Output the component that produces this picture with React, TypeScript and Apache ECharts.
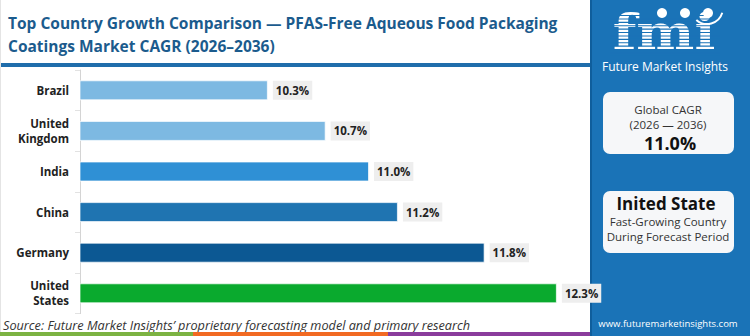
import React, { useEffect, useRef } from "react";
import * as echarts from "echarts";

const categories = ["Brazil", "United\nKingdom", "India", "China", "Germany", "United\nStates"];
const cagrValues = [10.3, 10.7, 11.0, 11.2, 11.8, 12.3];
const barColors = ["#7db9e2", "#7db9e2", "#2f90d5", "#1f74b1", "#0c5893", "#0aaa2e"];
const titleLines = [
  "Top Country Growth Comparison — PFAS-Free Aqueous Food Packaging",
  "Coatings Market CAGR (2026–2036)",
];
const globalCagr = "11.0%";
const sourceText = "Source: Future Market Insights’ proprietary forecasting model and primary research";

const FONT = "'Open Sans', 'Noto Sans', sans-serif";
const PANEL = "#1a73b7";

export default function App() {
  const ref = useRef<HTMLDivElement>(null);
  useEffect(() => {
    if (!ref.current) return;
    const chart = echarts.init(ref.current, null, { renderer: "svg" });
    const stripes: any[] = [];
    for (let y = 15; y < 57; y += 3.4) {
      stripes.push({
        type: "rect",
        shape: { x: 610, y, width: 110, height: 1.1 },
        style: { fill: PANEL },
        z: 20,
      });
    }
    chart.setOption({
      animation: false,
      backgroundColor: "#ffffff",
      grid: { left: 80, top: 70, width: 500, height: 243.6 },
      xAxis: { type: "value", min: 9, max: 12.46, show: false, splitLine: { show: false } },
      yAxis: {
        type: "category",
        inverse: true,
        data: categories,
        axisLine: { show: true, lineStyle: { color: "#d4d4d4", width: 1 } },
        axisTick: { show: true, length: 5, lineStyle: { color: "#e2e2e2" } },
        axisLabel: {
          fontFamily: FONT,
          fontWeight: "bold",
          fontSize: 11.5,
          color: "#222",
          margin: 11,
          lineHeight: 15,
          align: "right",
        },
      },
      series: [
        {
          type: "bar",
          barWidth: 20,
          data: cagrValues.map((v, i) => ({
            value: v,
            itemStyle: { color: barColors[i], borderColor: "rgba(255,255,255,0.7)", borderWidth: 1 },
          })),
          label: {
            show: true,
            position: "right",
            distance: 5,
            formatter: (p: any) => Number(p.value).toFixed(1) + "%",
            fontFamily: FONT,
            fontWeight: "bold",
            fontSize: 11.5,
            color: "#222",
            backgroundColor: "#eeeeee",
            padding: [4, 3, 3, 3],
          },
        },
      ],
      graphic: [
        {
          type: "text",
          left: 8,
          top: 11,
          style: {
            text: titleLines.join("\n"),
            font: `bold 15.5px ${FONT}`,
            lineHeight: 23,
            fill: "#1b5b8d",
          },
        },
        { type: "rect", shape: { x: 0, y: 63, width: 590, height: 4 }, style: { fill: "#1f6dab" } },
        { type: "rect", shape: { x: 0, y: 0, width: 1, height: 332 }, style: { fill: "#e4e4e4" } },
        { type: "rect", shape: { x: 590, y: 0, width: 160, height: 336 }, style: { fill: PANEL } },
        { type: "rect", shape: { x: 590, y: 0, width: 2, height: 336 }, style: { fill: "#0f5e9c" } },
        // logo
        {
          type: "text",
          x: 664,
          y: 32,
          scaleX: 1.12,
          style: {
            text: "fmi",
            font: "bold 49px 'DejaVu Serif', serif",
            fill: "#ffffff",
            textAlign: "center",
            textVerticalAlign: "middle",
            lineHeight: 40,
          },
          z: 10,
        },
        ...stripes,
        { type: "circle", shape: { cx: 662, cy: 13, r: 5 }, style: { fill: "#ffffff" }, z: 21 },
        { type: "circle", shape: { cx: 685, cy: 13, r: 5 }, style: { fill: "#ffffff" }, z: 21 },
        { type: "circle", shape: { cx: 708, cy: 13, r: 5 }, style: { fill: "#ffffff" }, z: 21 },
        {
          type: "arc",
          shape: { cx: 707, cy: 8, r: 16, startAngle: 0.3, endAngle: 2.3 },
          style: { stroke: "#ffffff", lineWidth: 2, fill: "none" },
          z: 21,
        },
        {
          type: "text",
          x: 665,
          y: 66,
          style: {
            text: "Future Market Insights",
            font: `12px ${FONT}`,
            fill: "#ffffff",
            textAlign: "center",
            textVerticalAlign: "middle",
          },
        },
        // box 1
        {
          type: "rect",
          shape: { x: 603, y: 92, width: 131, height: 62, r: 7 },
          style: { fill: "#f6f7f9" },
        },
        {
          type: "text",
          x: 668,
          y: 109.5,
          style: { text: "Global CAGR", font: `11.5px ${FONT}`, fill: "#333", textAlign: "center", textVerticalAlign: "middle", lineHeight: 14 },
        },
        {
          type: "text",
          x: 668,
          y: 124.5,
          style: { text: "(2026 — 2036)", font: `11.5px ${FONT}`, fill: "#333", textAlign: "center", textVerticalAlign: "middle", lineHeight: 14 },
        },
        {
          type: "text",
          x: 670,
          y: 142.5,
          style: { text: globalCagr, font: `bold 18px ${FONT}`, fill: "#111", textAlign: "center", textVerticalAlign: "middle", lineHeight: 18 },
        },
        // box 2
        {
          type: "rect",
          shape: { x: 603, y: 191, width: 131, height: 62, r: 7 },
          style: { fill: "#f6f7f9" },
        },
        {
          type: "text",
          x: 666,
          y: 203,
          style: { text: "Inited State", font: `bold 17px ${FONT}`, fill: "#111", textAlign: "center", textVerticalAlign: "middle", lineHeight: 18 },
        },
        {
          type: "text",
          x: 668,
          y: 221.5,
          style: { text: "Fast-Growing Country", font: `11.5px ${FONT}`, fill: "#333", textAlign: "center", textVerticalAlign: "middle", lineHeight: 14 },
        },
        {
          type: "text",
          x: 668,
          y: 236.5,
          style: { text: "During Forecast Period", font: `11.5px ${FONT}`, fill: "#333", textAlign: "center", textVerticalAlign: "middle", lineHeight: 14 },
        },
        {
          type: "text",
          x: 668,
          y: 323,
          style: { text: "www.futuremarketinsights.com", font: `9.5px ${FONT}`, fill: "#ffffff", textAlign: "center", textVerticalAlign: "middle" },
        },
        // source
        {
          type: "text",
          x: 3,
          y: 325,
          style: { text: sourceText, font: `italic 12.7px ${FONT}`, fill: "#333", textVerticalAlign: "middle" },
        },
        { type: "rect", shape: { x: 0, y: 332, width: 193, height: 4 }, style: { fill: "#7cb342" } },
        { type: "rect", shape: { x: 193, y: 332, width: 195, height: 4 }, style: { fill: "#f26a22" } },
        { type: "rect", shape: { x: 388, y: 332, width: 202, height: 4 }, style: { fill: "#8a3c9c" } },
      ],
    });
    return () => chart.dispose();
  }, []);
  return (
    <div
      ref={ref}
      style={{ position: "fixed", left: 0, top: 0, width: 750, height: 336 }}
    />
  );
}
